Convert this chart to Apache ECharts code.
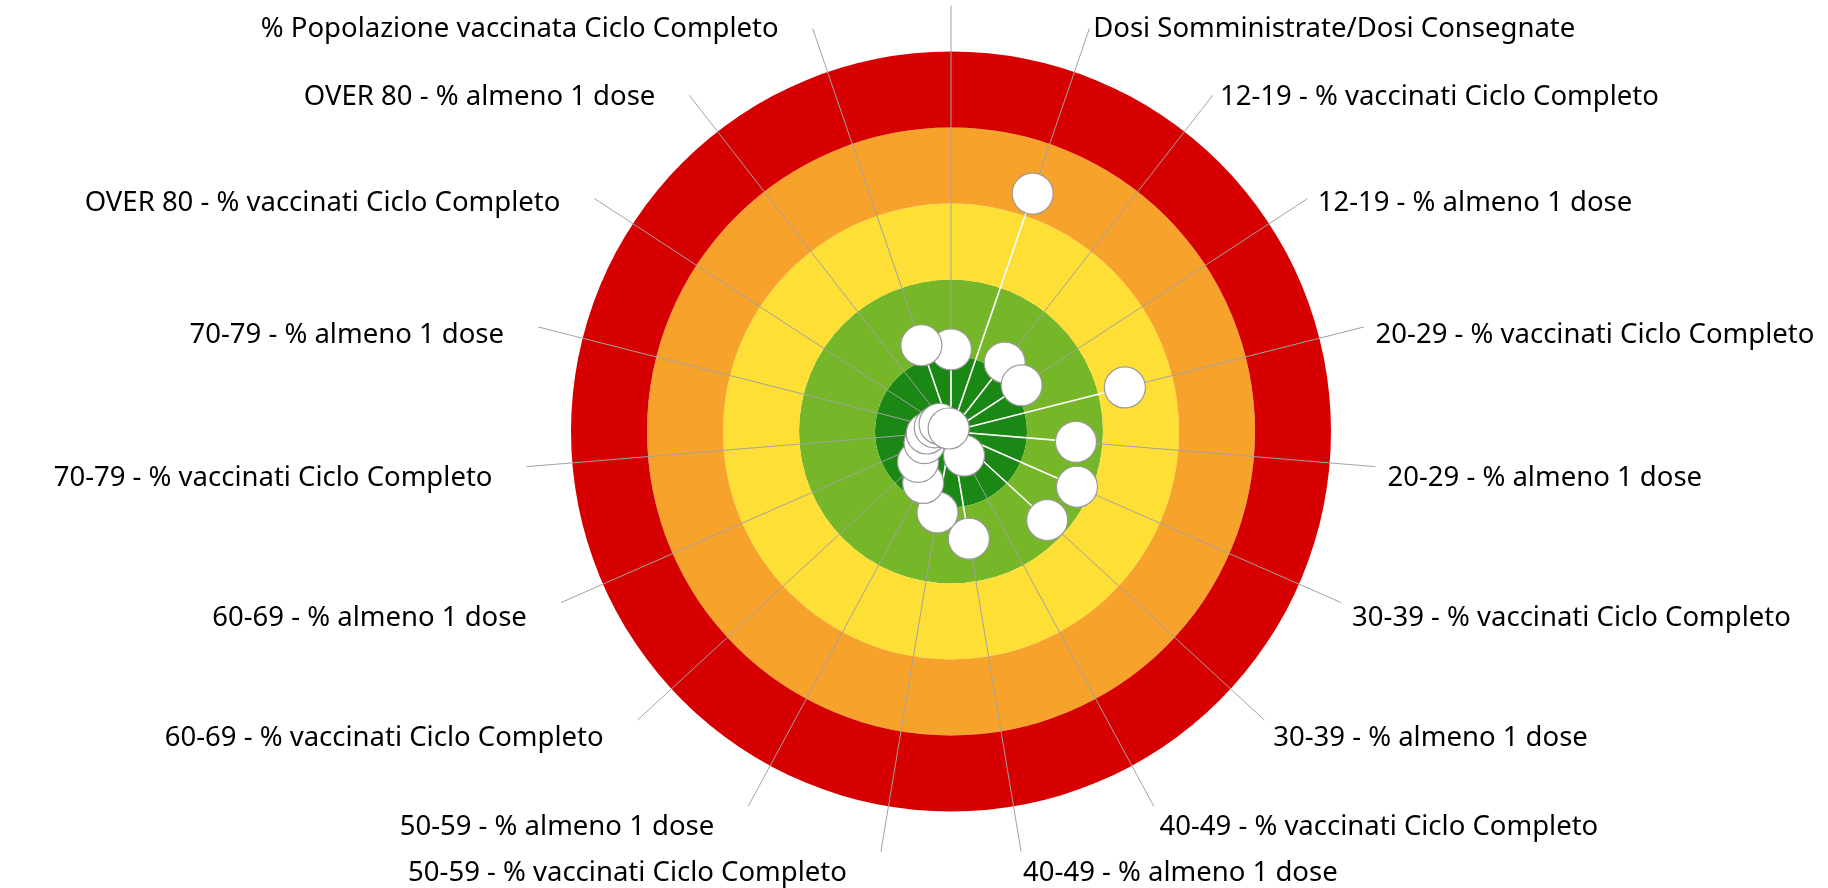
<!DOCTYPE html>
<html>
<head>
<meta charset="utf-8">
<title>Vaccinazioni - bersaglio</title>
<script src="https://cdn.jsdelivr.net/npm/echarts@6/dist/echarts.min.js"></script>
<style>
html, body { margin: 0; padding: 0; background: #fff; }
#mychart { width: 1828px; height: 888px; }
</style>
</head>
<body>
<div id="mychart"></div>
<script>
// categorie in senso orario partendo dall'alto (la prima non ha etichetta)
var categorie = [
  '',
  'Dosi Somministrate/Dosi Consegnate',
  '12-19 - % vaccinati Ciclo Completo',
  '12-19 - % almeno 1 dose',
  '20-29 - % vaccinati Ciclo Completo',
  '20-29 - % almeno 1 dose',
  '30-39 - % vaccinati Ciclo Completo',
  '30-39 - % almeno 1 dose',
  '40-49 - % vaccinati Ciclo Completo',
  '40-49 - % almeno 1 dose',
  '50-59 - % vaccinati Ciclo Completo',
  '50-59 - % almeno 1 dose',
  '60-69 - % vaccinati Ciclo Completo',
  '60-69 - % almeno 1 dose',
  '70-79 - % vaccinati Ciclo Completo',
  '70-79 - % almeno 1 dose',
  'OVER 80 - % vaccinati Ciclo Completo',
  'OVER 80 - % almeno 1 dose',
  '% Popolazione vaccinata Ciclo Completo'
];
// distanza dal centro (0 = centro, 5 = bordo esterno)
var valori = [1.08, 3.31, 1.15, 1.11, 2.36, 1.65, 1.81, 1.72, 0.36, 1.43,
              1.08, 0.77, 0.59, 0.38, 0.32, 0.22, 0.18, 0.05, 1.20];
// fasce: verde scuro -> rosso
var coloriFasce = ['#1b8714', '#76b72a', '#fddf36', '#f7a22b', '#d70000'];
var maxFascia = 5;

var chartDom = document.getElementById('mychart');
var myChart = echarts.init(chartDom);

function raggio(params, api) {
  var k = api.value(1);
  var c = api.coord([0, k]);
  var e = api.coord([maxFascia, k]);
  var dx = e[0] - c[0], dy = e[1] - c[1];
  var R = Math.sqrt(dx * dx + dy * dy);
  var ux = dx / R, uy = dy / R;
  var L = R + 46;
  var x1 = c[0] + ux * L, y1 = c[1] + uy * L;
  var figli = [{
    type: 'line',
    shape: { x1: c[0], y1: c[1], x2: x1, y2: y1 },
    style: { stroke: '#a3a3a3', lineWidth: 1 }
  }];
  var nome = categorie[k];
  if (nome) {
    var destra = ux > 0;
    figli.push({
      type: 'text',
      x: destra ? x1 + 12 * ux : x1 - 34,
      y: y1 + 11 + 11 * uy,
      style: {
        text: nome,
        fill: '#000',
        font: '27.5px "Noto Sans"',
        align: destra ? 'left' : 'right',
        verticalAlign: 'middle'
      }
    });
  }
  return { type: 'group', children: figli };
}

function lineaBianca(params, api) {
  var c = api.coord([0, api.value(1)]);
  var p = api.coord([api.value(0), api.value(1)]);
  return {
    type: 'line',
    shape: { x1: c[0], y1: c[1], x2: p[0], y2: p[1] },
    style: { stroke: '#fff', lineWidth: 1.6 }
  };
}

var punti = valori.map(function (v, k) { return [v, k]; });
var raggi = categorie.map(function (n, k) { return [0, k]; });

var option = {
  animation: false,
  polar: { center: [951, 431.5], radius: 380 },
  angleAxis: {
    type: 'category',
    data: categorie,
    boundaryGap: true,
    startAngle: 90 + 180 / categorie.length,
    clockwise: true,
    axisLine: { show: false },
    axisTick: { show: false },
    axisLabel: { show: false },
    splitLine: { show: false }
  },
  radiusAxis: {
    type: 'value',
    min: 0,
    max: maxFascia,
    interval: 1,
    axisLine: { show: false },
    axisTick: { show: false },
    axisLabel: { show: false },
    splitLine: { show: false },
    splitArea: { show: true, areaStyle: { color: coloriFasce, opacity: 1 } }
  },
  series: [
    {
      type: 'custom',
      coordinateSystem: 'polar',
      renderItem: raggio,
      data: raggi,
      silent: true,
      z: 1
    },
    {
      type: 'custom',
      coordinateSystem: 'polar',
      renderItem: lineaBianca,
      data: punti,
      silent: true,
      z: 2
    },
    {
      type: 'scatter',
      coordinateSystem: 'polar',
      data: punti,
      symbolSize: 41,
      itemStyle: { color: '#fff', borderColor: '#9a9a9a', borderWidth: 1.2, opacity: 1 },
      z: 3
    }
  ]
};

option && myChart.setOption(option);
</script>
</body>
</html>
